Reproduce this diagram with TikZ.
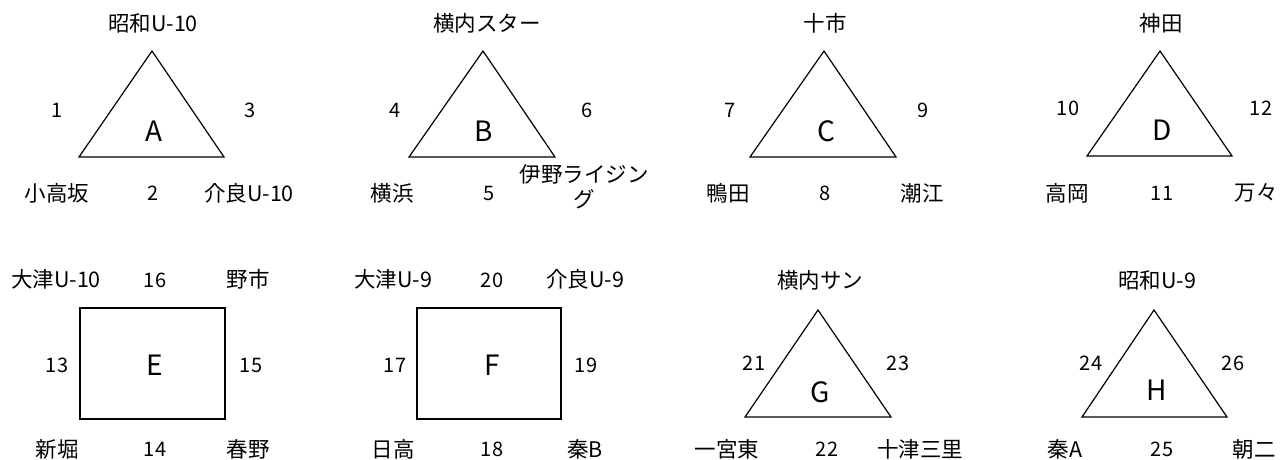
\documentclass[tikz,border=0pt]{standalone}
\usepackage{fontspec}
\setmainfont{Noto Sans CJK JP}
\usepackage{tikz}
\usetikzlibrary{
  positioning,
}
\tikzstyle{court} = [
  line width=1.2pt,
  line join=miter,
]
\tikzstyle{team} = [
  inner sep=0pt,
  font=\fontsize{21.5}{25}\selectfont,
]
\tikzstyle{slot} = [
  inner sep=0pt,
  font=\fontsize{20}{25}\selectfont,
]
\tikzstyle{group} = [
  inner sep=0pt,
  font=\fontsize{28}{30}\selectfont,
]

\begin{document}
\begin{tikzpicture}[x=1pt, y=-1pt]

        \useasboundingbox (0,0) rectangle (1282,459);

        % group A
        \draw [court] (152,51) -- (79,157) -- (224,157) -- cycle;
        \node [group] (gA) at (154,131) {A};
        \node [team] (tA1) at (153,23) {昭和U-10};
        \node [team] (tA2) at (57,193) {小高坂};
        \node [team] (tA3) at (249,193) {介良U-10};
        \node [slot] (sA1) at (57,110) {1};
        \node [slot] (sA2) at (153,193) {2};
        \node [slot] (sA3) at (250,110) {3};

        % group B
        \draw [court] (483,51) -- (409,157) -- (555,157) -- cycle;
        \node [group] (gB) at (484,131) {B};
        \node [team] (tB1) at (487,23) {横内スター};
        \node [team] (tB2) at (392,193) {横浜};
        \node [team, align=center] (tB3) at (584,187) {伊野ライジン\\グ};
        \node [slot] (sB1) at (395,110) {4};
        \node [slot] (sB2) at (489,193) {5};
        \node [slot] (sB3) at (587,110) {6};

        % group C
        \draw [court] (824,51) -- (750,157) -- (896,157) -- cycle;
        \node [group] (gC) at (826,131) {C};
        \node [team] (tC1) at (825,23) {十市};
        \node [team] (tC2) at (728,193) {鴨田};
        \node [team] (tC3) at (922,193) {潮江};
        \node [slot] (sC1) at (730,110) {7};
        \node [slot] (sC2) at (825,193) {8};
        \node [slot] (sC3) at (923,110) {9};

        % group D
        \draw [court] (1160,51) -- (1087,156) -- (1232,156) -- cycle;
        \node [group] (gD) at (1162,130) {D};
        \node [team] (tD1) at (1161,23) {神田};
        \node [team] (tD2) at (1067,193) {高岡};
        \node [team] (tD3) at (1256,193) {万々};
        \node [slot] (sD1) at (1068,108) {10};
        \node [slot] (sD2) at (1162,193) {11};
        \node [slot] (sD3) at (1261,108) {12};

        % group E
        \draw [court] (80,308) rectangle (225,419);
        \node [group] (gE) at (155,365) {E};
        \node [team] (tE1) at (56,279) {大津U-10};
        \node [team] (tE2) at (248,279) {野市};
        \node [team] (tE3) at (57,449) {新堀};
        \node [team] (tE4) at (248,449) {春野};
        \node [slot] (sE1) at (57,365) {13};
        \node [slot] (sE2) at (155,449) {14};
        \node [slot] (sE3) at (251,365) {15};
        \node [slot] (sE4) at (155,280) {16};

        % group F
        \draw [court] (417,308) rectangle (561,419);
        \node [group] (gF) at (492,365) {F};
        \node [team] (tF1) at (393,279) {大津U-9};
        \node [team] (tF2) at (585,279) {介良U-9};
        \node [team] (tF3) at (393,449) {日高};
        \node [team] (tF4) at (585,449) {秦B};
        \node [slot] (sF1) at (395,365) {17};
        \node [slot] (sF2) at (492,449) {18};
        \node [slot] (sF3) at (586,365) {19};
        \node [slot] (sF4) at (492,280) {20};

        % group G
        \draw [court] (818,310) -- (745,417) -- (891,417) -- cycle;
        \node [group] (gG) at (820,392) {G};
        \node [team] (tG1) at (820,280) {横内サン};
        \node [team] (tG2) at (727,449) {一宮東};
        \node [team] (tG3) at (920,449) {十津三里};
        \node [slot] (sG1) at (754,363) {21};
        \node [slot] (sG2) at (827,449) {22};
        \node [slot] (sG3) at (898,363) {23};

        % group H
        \draw [court] (1154,310) -- (1082,417) -- (1227,417) -- cycle;
        \node [group] (gH) at (1157,390) {H};
        \node [team] (tH1) at (1157,280) {昭和U-9};
        \node [team] (tH2) at (1065,449) {秦A};
        \node [team] (tH3) at (1254,449) {朝二};
        \node [slot] (sH1) at (1091,363) {24};
        \node [slot] (sH2) at (1162,449) {25};
        \node [slot] (sH3) at (1233,363) {26};

      \end{tikzpicture}
\end{document}
